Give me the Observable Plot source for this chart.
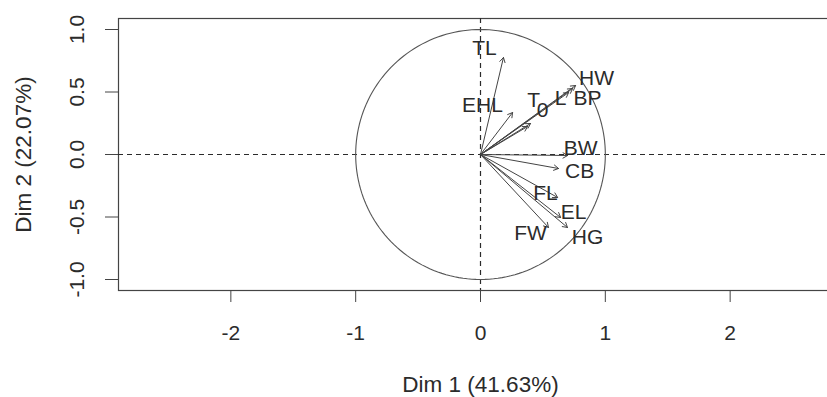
<!DOCTYPE html>
<html>
<head>
<meta charset="utf-8">
<script src="https://cdn.jsdelivr.net/npm/d3@7"></script>
<script src="https://cdn.jsdelivr.net/npm/@observablehq/plot@0.6"></script>
<style>
  html, body { margin: 0; padding: 0; background: #fff; }
  #chart svg { display: block; overflow: hidden; }
</style>
</head>
<body>
<div id="chart"></div>
<script>
// Variable names, arrow tips (Dim 1, Dim 2)
const names = ["TL", "EHL", "T", "0", "L", "HW", "BP", "BW", "CB", "FL", "EL", "FW", "HG"];
const dim1  = [0.184, 0.257, 0.401, 0.377, 0.706, 0.762, 0.738, 0.698, 0.625, 0.618, 0.642, 0.545, 0.697];
const dim2  = [0.776, 0.336, 0.248, 0.224, 0.496, 0.552, 0.528, -0.008, -0.112, -0.344, -0.504, -0.584, -0.584];
// Where each label sits (data units)
const labelDim1 = [0.032, 0.016, 0.425, 0.497, 0.641, 0.930, 0.858, 0.802, 0.794, 0.521, 0.746, 0.401, 0.858];
const labelDim2 = [0.848, 0.392, 0.432, 0.352, 0.448, 0.608, 0.448, 0.048, -0.136, -0.312, -0.464, -0.632, -0.664];

const xTicks = [-2, -1, 0, 1, 2];
const yTicks = [-1.0, -0.5, 0.0, 0.5, 1.0];
const xTitle = "Dim 1 (41.63%)";
const yTitle = "Dim 2 (22.07%)";

const vars = names.map((n, i) => ({name: n, x: dim1[i], y: dim2[i], lx: labelDim1[i], ly: labelDim2[i]}));
// unit circle of correlations
const circle = d3.range(0, 361, 2).map(a => ({x: Math.cos(a * Math.PI / 180), y: Math.sin(a * Math.PI / 180)}));

const ink = "#2b2b2b";
const chart = Plot.plot({
  width: 842,
  height: 397,
  marginLeft: 118,
  marginRight: 0,
  marginTop: 18,
  marginBottom: 107,
  style: {fontFamily: "'Liberation Sans', Arial, sans-serif", color: ink, background: "#fff"},
  x: {domain: [-2.9, 2.9]},
  y: {domain: [-1.088, 1.088]},
  marks: [
    Plot.frame({stroke: "#444", strokeWidth: 1.2}),
    Plot.ruleX([0], {stroke: ink, strokeWidth: 1.2, strokeDasharray: "5,4"}),
    Plot.ruleY([0], {stroke: ink, strokeWidth: 1.2, strokeDasharray: "5,4"}),
    Plot.line(circle, {x: "x", y: "y", stroke: "#555", strokeWidth: 1.1}),
    Plot.arrow(vars, {x1: () => 0, y1: () => 0, x2: "x", y2: "y", stroke: "#444", strokeWidth: 1, headLength: 8}),
    Plot.text(vars, {x: "lx", y: "ly", text: "name", fontSize: 21, fill: ink, textAnchor: "middle", lineAnchor: "middle"}),
    Plot.axisX({ticks: xTicks, tickSize: 12, tickPadding: 23, fontSize: 21, tickFormat: d => String(d), label: null, stroke: "#444"}),
    Plot.axisY({ticks: yTicks, tickSize: 13, tickFormat: () => "", label: null, stroke: "#444"}),
    Plot.text(yTicks, {x: () => -2.9, y: d => d, text: d => d.toFixed(1), rotate: -90, dx: -41, fontSize: 21, fill: ink, textAnchor: "middle", lineAnchor: "middle"}),
    Plot.text([xTitle], {frameAnchor: "bottom", dy: 94, fontSize: 22.5, fill: ink, textAnchor: "middle", lineAnchor: "middle"}),
    Plot.text([yTitle], {frameAnchor: "left", dx: -95, rotate: -90, fontSize: 22.5, fill: ink, textAnchor: "middle", lineAnchor: "middle"})
  ]
});
// The reference is cropped on the right: show only the first 827 px of the 842 px drawing
chart.setAttribute("width", 827);
chart.setAttribute("viewBox", "0 0 827 397");
document.getElementById("chart").appendChild(chart);
</script>
</body>
</html>
